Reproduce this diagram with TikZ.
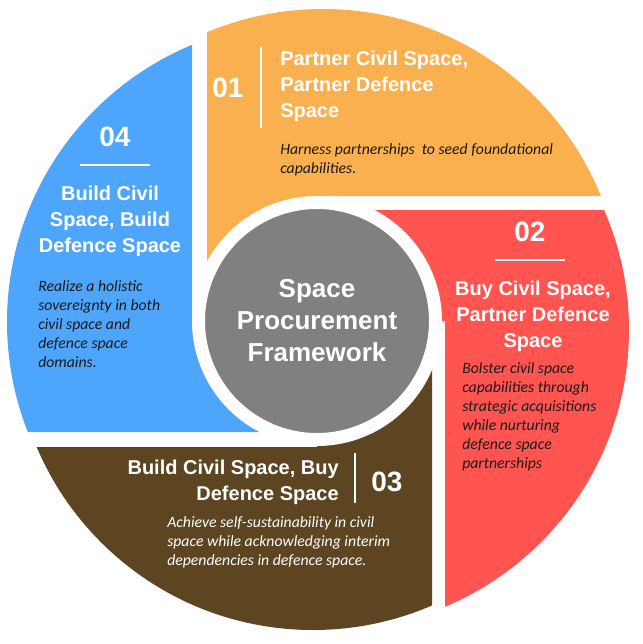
\documentclass[tikz,border=0pt]{standalone}
\usepackage{fontspec}
\setmainfont{Carlito}
\newfontfamily\arialfont{Liberation Sans}
\usetikzlibrary{positioning}
\definecolor{porange}{HTML}{FBB04F}
\definecolor{pred}{HTML}{FF5450}
\definecolor{pbrown}{HTML}{5C4520}
\definecolor{pblue}{HTML}{4EA6FC}
\definecolor{pgrey}{HTML}{808080}
\tikzset{
  head/.style={font=\arialfont\bfseries\fontsize{15}{19.5}\selectfont,text=white,inner sep=0pt},
  num/.style={font=\arialfont\bfseries\fontsize{21}{24}\selectfont,text=white,inner sep=0pt},
  body/.style={font=\itshape\fontsize{11.8}{14.3}\selectfont,text=black!90,inner sep=0pt,align=left},
  divider/.style={white,line width=1.5pt},
  title/.style={circle,fill=pgrey,draw=white,line width=9.75pt,minimum size=177.75pt,inner sep=0pt,
                align=center,text=white,font=\arialfont\bfseries\fontsize{19.5}{24}\selectfont},
}
\begin{document}
\begin{tikzpicture}[x=0.75pt,y=-0.75pt]
  \useasboundingbox (0,0) rectangle (643,644);
  \coordinate (centre) at (317,321);
  % 01 partner / partner
  \begin{scope}
    \clip (207,-10) -- (660,-10) -- (660,196) -- (317,196) -- (317,321) -- (207,321) -- cycle;
    \fill[porange] (323,309) circle (300);
  \end{scope}
  % 02 buy / partner
  \begin{scope}
    \clip (317,210) -- (660,210) -- (660,660) -- (445,660) -- (445,321) -- (317,321) -- cycle;
    \fill[pred] (329,330) circle (300);
  \end{scope}
  % 03 build / buy
  \begin{scope}
    \clip (-10,447) -- (317,447) -- (317,321) -- (432,321) -- (432,660) -- (-10,660) -- cycle;
    \fill[pbrown] (313,330) circle (300);
  \end{scope}
  % 04 build / build
  \begin{scope}
    \clip (-10,-10) -- (192,-10) -- (192,321) -- (317,321) -- (317,432) -- (-10,432) -- cycle;
    \fill[pblue] (307,322) circle (300);
  \end{scope}
  % centre
  \node[title] (framework) at (centre) {Space\\Procurement\\Framework};

  % 01
  \node[num] (n1) at (228,88) {01};
  \draw[divider] (261,47) -- (261,128);
  \node[head,align=left,anchor=west] (h1) at (280,86) {Partner Civil Space,\\Partner Defence\\Space};
  \node[body,anchor=west] (b1) at (280,160) {Harness partnerships\ \ to seed foundational\\capabilities.};
  % 02
  \node[num] (n2) at (530,232) {02};
  \draw[divider] (495,260) -- (565,260);
  \node[head,align=center] (h2) at (533,316) {Buy Civil Space,\\Partner Defence\\Space};
  \node[body,anchor=west] (b2) at (462,417) {Bolster civil space\\capabilities through\\strategic acquisitions\\while nurturing\\defence space\\partnerships};
  % 03
  \node[num] (n3) at (387,482) {03};
  \draw[divider] (355,453) -- (355,503);
  \node[head,align=right,anchor=east] (h3) at (339,482) {Build Civil Space, Buy\\Defence Space};
  \node[body,text=white,anchor=west] (b3) at (167,542) {Achieve self-sustainability in civil\\space while acknowledging interim\\dependencies in defence space.};
  % 04
  \node[num] (n4) at (115,137) {04};
  \draw[divider] (80,165) -- (150,165);
  \node[head,align=center] (h4) at (110,221) {Build Civil\\Space, Build\\Defence Space};
  \node[body,anchor=west] (b4) at (38,324) {Realize a holistic\\sovereignty in both\\civil space and\\defence space\\domains.};
\end{tikzpicture}
\end{document}
